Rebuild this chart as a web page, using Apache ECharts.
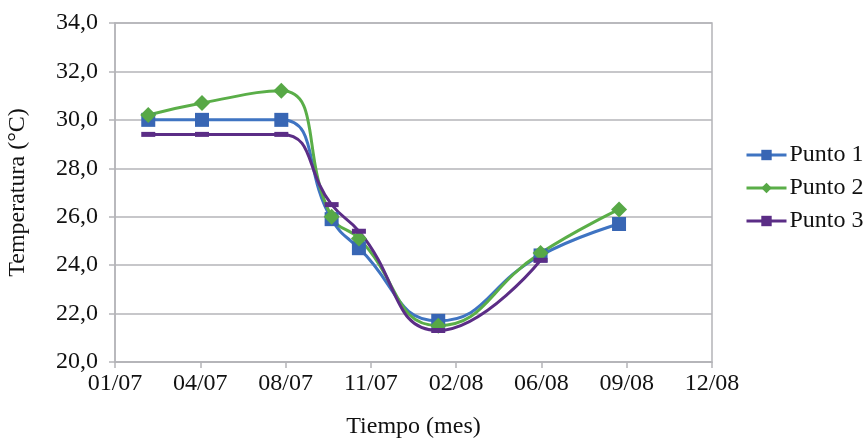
<!DOCTYPE html>
<html>
<head>
<meta charset="utf-8">
<script src="https://cdn.jsdelivr.net/npm/echarts@6/dist/echarts.min.js"></script>
<style>
  html, body { margin: 0; padding: 0; background: #fff; }
  #chart { width: 864px; height: 438px; }
</style>
</head>
<body>
<div id="chart"></div>
<script>
// tick labels on the time axis (one per unit)
const xTickLabels = ["01/07", "04/07", "08/07", "11/07", "02/08", "06/08", "09/08", "12/08"];
// sample positions, in axis units
const xPos = [0.39, 1.02, 1.95, 2.54, 2.86, 3.79, 4.99, 5.91];
const punto1 = [30.0, 30.0, 30.0, 25.9, 24.7, 21.7, 24.4, 25.7];
const punto2 = [30.2, 30.7, 31.2, 26.0, 25.1, 21.5, 24.5, 26.3];
const punto3 = [29.4, 29.4, 29.4, 26.5, 25.4, 21.3, 24.2, null];

const font = "'Liberation Serif', 'Times New Roman', serif";
const gridColor = "#b4b4b8";

function pairs(vals) {
  const out = [];
  for (let i = 0; i < vals.length; i++) {
    if (vals[i] != null) out.push([xPos[i], vals[i]]);
  }
  return out;
}

const chart = echarts.init(document.getElementById("chart"));
chart.setOption({
  animation: false,
  textStyle: { fontFamily: font, color: "#111" },
  grid: {
    left: 115, right: 152, top: 23, bottom: 76,
    outerBoundsMode: "none", containLabel: false,
    show: true, borderColor: gridColor, borderWidth: 1.5
  },
  xAxis: {
    type: "value",
    min: 0,
    max: 7,
    interval: 1,
    name: "Tiempo (mes)",
    nameLocation: "middle",
    nameGap: 53,
    nameTextStyle: { fontFamily: font, fontSize: 24, color: "#111" },
    axisLine: { lineStyle: { color: gridColor, width: 1.5 } },
    axisTick: { show: true, length: 6, lineStyle: { color: gridColor, width: 1.5 } },
    axisLabel: {
      fontFamily: font, fontSize: 24, color: "#111", margin: 10,
      formatter: v => xTickLabels[Math.round(v)] || ""
    },
    splitLine: { show: false }
  },
  yAxis: {
    type: "value",
    min: 20,
    max: 34,
    interval: 2,
    name: "Temperatura (°C)",
    nameLocation: "middle",
    nameGap: 85,
    nameTextStyle: { fontFamily: font, fontSize: 24, color: "#111" },
    axisLine: { show: true, lineStyle: { color: gridColor, width: 1.5 } },
    axisTick: { show: true, length: 6, lineStyle: { color: gridColor, width: 1.5 } },
    axisLabel: {
      fontFamily: font, fontSize: 24, color: "#111", margin: 17,
      formatter: v => v.toFixed(1).replace(".", ",")
    },
    splitLine: { lineStyle: { color: gridColor, width: 1.5 } }
  },
  legend: {
    orient: "vertical",
    left: 740,
    top: 138,
    itemWidth: 40,
    itemHeight: 13,
    itemGap: 9,
    itemStyle: { borderWidth: 0 },
    lineStyle: { width: 3 },
    textStyle: { fontFamily: font, fontSize: 24, color: "#111", padding: [0, 0, 0, -2] },
    data: ["Punto 1", "Punto 2", "Punto 3"]
  },
  series: [
    {
      name: "Punto 1", type: "line", smooth: 0.5,
      data: pairs(punto1),
      symbol: "rect", symbolSize: 14,
      lineStyle: { color: "#3f74c2", width: 3 },
      itemStyle: { color: "#3866b4" }
    },
    {
      name: "Punto 2", type: "line", smooth: 0.5,
      data: pairs(punto2),
      symbol: "diamond", symbolSize: 16,
      lineStyle: { color: "#5aae48", width: 3 },
      itemStyle: { color: "#57a846" }
    },
    {
      name: "Punto 3", type: "line", smooth: 0.5,
      data: pairs(punto3),
      symbol: "rect", symbolSize: [14, 5],
      lineStyle: { color: "#5b2d86", width: 3 },
      itemStyle: { color: "#5b2d86" }
    }
  ]
});
</script>
</body>
</html>
